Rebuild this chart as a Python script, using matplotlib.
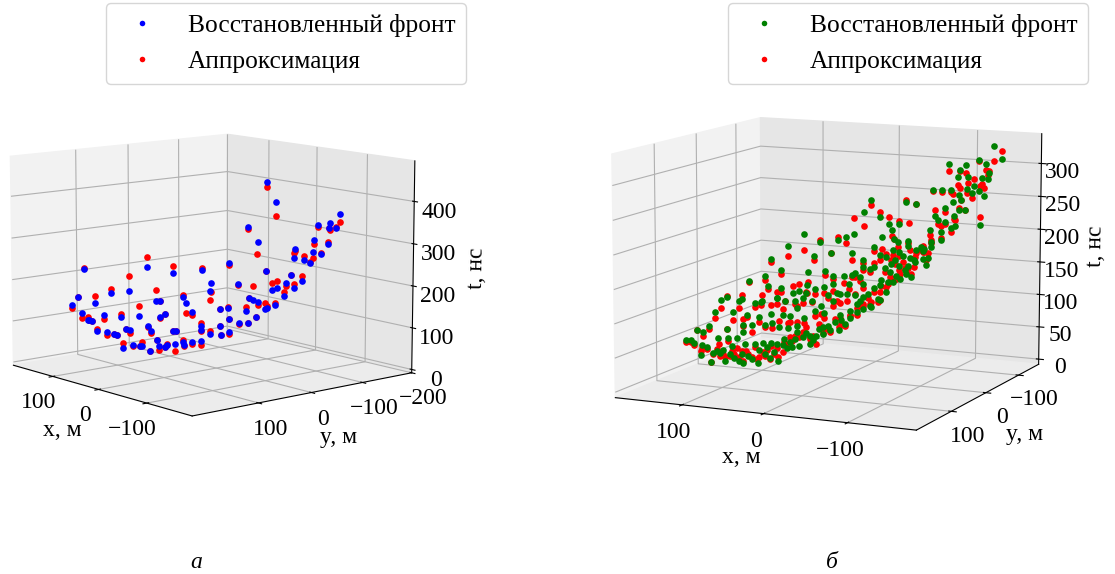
# Two 3D scatter plots: reconstructed shower front and its approximation
import matplotlib
matplotlib.use("Agg")
import matplotlib.pyplot as plt

plt.rcParams['font.family'] = ['Liberation Serif', 'DejaVu Serif']

# Left panel
left_x = [-48, -56, -30, -39, -73, -63, -52, -113, -106, -92, -150, -75, -73, -136, -143, -128, -133, -12, -47,
          -116, -126, -21, -103, -98, -111, -118, -35, -109, -101, -85, -77, -91, -93, -74, -84, -67, -76, -12,
          -58, -4, -11, -50, -50, 5, 52, 14, 41, 66, 126, 84, 100, 116, 132, 138, 105, 101, 79, 76, 70, 122, 96,
          101, 91, 108, 129, 123, 119, 114, 105, 98, 95, 86, 83, 113, 110, 88, 85, 61, 58, 52, 61, 70, 79, 78,
          86, 94, 96, 102, 104, 111, 118, 121, 127, 137, 122]
left_y = [-53, -62, -33, -43, -174, -163, -151, -125, -117, -102, -71, -82, -81, -56, -64, -47, -53, -14, -52,
          -34, -45, -23, -19, -15, -28, -37, -38, -26, -17, 0, 9, -7, -9, 12, 2, 20, 10, -13,
          30, -4, -12, 39, 38, 6, -36, 15, 45, 73, 139, 92, 111, 128, 146, 153, 22, 18, -7, -10, -17, 40, 12,
          17, 101, 119, 142, 136, 132, 126, 116, 108, 105, 95, 91, 31, 27, 3, 0, -27, -24, -36, -27, -17, -7, -8,
          1, 10, 12, 19, 21, 29, 37, 39, 47, 57, 135]
left_t_front = [440, 392, 333, 296, 350, 329, 323, 334, 333, 303, 312, 283, 260, 293, 290, 275, 268, 246, 227,
                239, 226, 195, 209, 202, 220, 209, 158, 190, 167, 175, 184, 158, 159, 153, 139, 124, 124, 112,
                102, 136, 139, 116, 94, 198, 157, 227, 221, 233, 227, 174, 170, 145, 159, 140, 132, 132, 143, 127,
                105, 94, 99, 91, 111, 116, 120, 103, 102, 76, 74, 69, 67, 83, 80, 70, 56, 59, 59, 72, 63, 53, 34,
                31, 31, 23, 25, 24, 17, 20, 35, 8, 21, 19, 21, 15, 103]
left_t_fit = [427, 360, 328, 268, 331, 312, 319, 335, 334, 295, 317, 277, 271, 279, 291, 283, 269, 242, 228,
              238, 237, 194, 225, 220, 213, 218, 192, 199, 173, 166, 184, 172, 165, 162, 139, 122, 124, 112,
              98, 136, 141, 117, 94, 175, 135, 232, 236, 258, 229, 211, 179, 161, 158, 131, 158, 132, 146, 104,
              98, 119, 99, 90, 118, 106, 108, 111, 101, 82, 68, 69, 67, 83, 72, 67, 51, 59, 59, 80, 61, 61, 24,
              26, 37, 21, 9, 27, 17, 11, 35, 8, 29, 19, 19, 26, 103]

# Right panel
right_x = [-144, -152, -128, -136, -97, -108, -115, -139, -106, -117, -132, -138, -123, -129, -121, -134, -99,
           -80, -90, -108, -116, -101, -109, -93, -130, -114, -108, -82, -102, -85, -93, -99, -104, -77, -89, -78,
           -50, -86, -97, -60, -69, -43, -33, -79, -89, -72, -16, -25, -62, -74, 2, 19, 36, 53, 9, -9, 43, 60, 76,
           99, 106, 83, 112, 131, 142, 119, 137, 125,
           16, 7, -12, -4, 34, 43, 50, 35, 67, 36, 82, 90, 83, 73, 107, 113, 120, 98, 103, 86, 79, 67, 58, 60, 53,
           45, 39, 30, 20, 13, 3, -7, -16, -24, -31, -21, -42, -48, -56, -62, -71, -80, -85, -92, -90, -78, -71,
           -62, -52, -43, -35, -24, -18, -11, 0, -59, -50, -42, -30, -31, -42, -21, -68, -75, -87, -71, -73, -66, -58,
           157, 168, 175, 162, 155, 148, 142, 137, 132, 127, 123, 117, 113, 107, 99, 106, 94, 85, 89, 80, 75, 70,
           62, 51, 44, 37, 29, 20, 13, 37, 51, 58, 67, 79, 93, 101, 120, 129, 139, 149, 167,
           151, 144, 134, 124, 110, 97, 86, 72, 65, 55, 48, 41, 32, 24, 17, 8, 1, -6, -14, -22, -30, -38, -45, -52,
           -61, -70, -78, -89,
           103, 93, 72, 65, 55, 46, 38, 27, 17, 8, 0, -9, 7, 17, 27, 48, 62, 76, -16, -24, -35, -47, -54, -61, -35,
           -24, -12]
right_y = [-107, -111, -100, -104, -87, -92, -95, -105, -91, -96, -102, -104, -98, -101, -98, -103, -88,
           -80, -84, -92, -95, -89, -93, -86, -101, -95, -92, -81, -90, -83, -86, -88, -90, -79, -84, -80,
           26, 11, 7, 22, 18, 29, 33, 14, 10, 17, 41, 37, 21, 16, 48, 55, 62, 69, 51, 43, 65, 72, 79,
           88, 91, 82, 94, 102, 106, 96, 104, 99,
           7, 3, -5, -2, 14, 18, 21, 15, 28, 15, 34, 37, 35, 30, 44, 47, 50, 41, 43, 36, 33, 28, 24, 25, 22,
           19, 16, 12, 8, 6, 1, -3, -7, -10, -13, -9, -17, -20, -23, -26, -30, -33, -35, -38, -37, -32, -30,
           -26, -22, -18, -15, -10, -7, -4, 0, -25, -21, -17, -12, -13, -17, -9, -28, -31, -36, -77, -30, -27, -24,
           18, 23, 26, 20, 17, 14, 12, 10, 8, 6, 4, 2, 0, -2, -6, -3, -8, -12, -10, -14, -16, -18,
           -21, -26, -29, -32, -35, -39, -42, -32, -26, -23, -19, -14, -9, -5, 3, 7, 11, 15, 22,
           16, 13, 9, 4, -1, -7, -11, -17, -20, -24, -27, -30, -34, -37, -40, -44, -47, -49, -53, -56, -60, -63, -66,
           -69, -72, -76, -80, -84,
           43, 39, 30, 27, 23, 19, 16, 11, 7, 3, 0, -4, 3, 7, 11, 20, 26, 31, -7, -10, -15, -20, -22, -25, -15, -10, -5]
right_t_front = [333, 313, 312, 306, 306, 297, 304, 293, 286, 286, 285, 283, 273, 266, 263, 258, 267,
                 266, 266, 259, 268, 248, 251, 239, 214, 237, 237, 228, 227, 222, 218, 210, 213, 206, 191, 188,
                 268, 265, 263, 244, 233, 250, 218, 233, 208, 225, 210, 214, 214, 211, 207, 218, 200, 181, 185, 190,
                 164, 156, 148, 124, 119, 122, 101, 75, 60, 81, 60, 71,
                 154, 146, 147, 146, 151, 123, 120, 133, 113, 120, 107, 105, 106, 88, 107, 90, 65, 86, 71, 84, 72,
                 112, 108, 87, 86, 97, 113, 108, 100, 118, 121, 119, 117, 160, 157, 144, 178, 175, 185, 183, 191, 186,
                 191, 174, 164, 171, 161, 161, 152, 140, 129, 115, 104, 93, 88, 147, 137, 133, 119, 102, 110, 109, 156,
                 146, 184, 178, 173, 176, 170,
                 2, 13, 31, 25, 16, 16, 5, 15, 9, 5, 2, 13, 8, 2, 16, 21, 10, 5, 19, 29, 25, 26, 29, 32, 44, 47, 53,
                 53, 63, 57, 44, 42, 39, 39, 33, 32, 30, 40, 40, 40, 28,
                 20, 22, 28, 15, 31, 26, 31, 34, 49, 49, 37, 55, 60, 65, 68, 71, 81, 86, 89, 101, 112, 127, 132, 140,
                 158, 163, 181, 204,
                 61, 71, 74, 69, 67, 70, 83, 93, 90, 109, 119, 134, 134, 129, 126, 108, 127, 130, 150, 134, 160, 158,
                 165, 198, 190, 170, 180]
right_t_fit = [310, 325, 310, 297, 296, 296, 293, 296, 275, 278, 276, 290, 284, 273, 255, 270, 264,
               265, 264, 270, 263, 261, 252, 233, 227, 236, 240, 237, 223, 215, 215, 204, 221, 199, 195, 191,
               261, 268, 263, 251, 243, 230, 242, 238, 235, 216, 214, 205, 196, 212, 209, 195, 185, 177, 180, 190,
               159, 150, 147, 125, 108, 127, 93, 75, 57, 76, 57, 66,
               148, 141, 145, 136, 137, 133, 130, 121, 122, 121, 117, 99, 102, 102, 96, 78, 65, 84, 81, 76, 69,
               104, 108, 96, 77, 100, 105, 106, 88, 113, 109, 109, 119, 155, 152, 139, 170, 180, 178, 176, 196, 181,
               186, 181, 171, 161, 158, 155, 145, 132, 122, 104, 98, 86, 83, 142, 135, 122, 114, 104, 110, 102, 158,
               150, 191, 173, 186, 168, 165,
               2, 19, 29, 22, 15, 12, 10, 12, 15, 10, 5, 15, 11, 8, 13, 11, 8, 11, 16, 19, 31, 36, 42, 39, 32, 49, 50,
               58, 60, 55, 42, 50, 44, 34, 28, 18, 20, 25, 35, 30, 24,
               23, 15, 20, 20, 26, 21, 25, 42, 44, 57, 44, 62, 55, 70, 63, 76, 76, 91, 96, 96, 119, 132, 140, 145,
               166, 173, 186, 212,
               69, 61, 67, 77, 75, 77, 75, 85, 83, 101, 106, 126, 124, 121, 118, 103, 122, 125, 145, 129, 165, 153,
               170, 190, 183, 165, 170]


def draw_panel(rect, xs, ys, t_front, t_fit, color, elev, azim, xlim, ylim, zlim, yticks, zticks, anchor):
    ax = fig.add_axes(rect, projection='3d')
    ax.computed_zorder = False
    ax.view_init(elev=elev, azim=azim)
    ax.scatter(xs, ys, t_fit, c='red', s=23, linewidths=0, depthshade=False, zorder=2)
    ax.scatter(xs, ys, t_front, c=color, s=23, linewidths=0, depthshade=False, zorder=3)
    # legend handles in the same order as the source figure
    h1 = plt.Line2D([], [], ls='', marker='o', ms=4.0, mew=0, color=color)
    h2 = plt.Line2D([], [], ls='', marker='o', ms=4.0, mew=0, color='red')
    fig.legend([h1, h2], ["Восстановленный фронт", "Аппроксимация"], loc='upper left',
               bbox_to_anchor=anchor, fontsize=18.3, borderaxespad=0, labelspacing=0.55, borderpad=0.42)
    ax.set_xlim(*xlim)
    ax.set_ylim(*ylim)
    ax.set_zlim(*zlim)
    ax.set_xticks([-100, 0, 100])
    ax.set_yticks(yticks)
    ax.set_zticks(zticks)
    ax.xaxis.set_pane_color((0.95, 0.95, 0.95, 1))
    ax.yaxis.set_pane_color((0.90, 0.90, 0.90, 1))
    ax.zaxis.set_pane_color((0.925, 0.925, 0.925, 1))
    ax.tick_params(labelsize=17, pad=2)
    ax.set_xlabel("x, м", fontsize=17, labelpad=5)
    ax.set_ylabel("y, м", fontsize=17, labelpad=6)
    ax.set_zlabel("t, нс", fontsize=17, labelpad=5)
    return ax


fig = plt.figure(figsize=(11.15, 5.74), dpi=100)

draw_panel([-0.0145, 0.143, 0.397, 0.397 * 11.15 / 5.74], left_x, left_y, left_t_front, left_t_fit, 'blue',
           10, 140, (-190, 190), (-200, 220), (-8, 495), [-200, -100, 0, 100], [0, 100, 200, 300, 400], (0.095, 0.995))
draw_panel([0.5175, 0.096, 0.447, 0.447 * 11.15 / 5.74], right_x, right_y, right_t_front, right_t_fit, 'green',
           10, 115, (-180, 184), (-165, 195), (-8, 345), [-100, 0, 100], [0, 50, 100, 150, 200, 250, 300], (0.653, 0.995))

fig.text(196 / 1115, 1 - 562 / 574, "а", fontsize=17, style='italic', ha='center', va='center')
fig.text(832 / 1115, 1 - 562 / 574, "б", fontsize=17, style='italic', ha='center', va='center')

fig.savefig("out.png", dpi=100)
